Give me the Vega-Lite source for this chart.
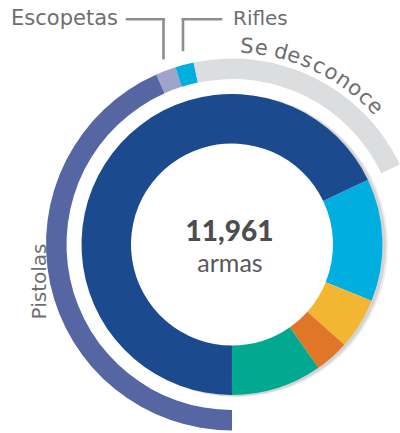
{
  "$schema": "https://vega.github.io/schema/vega-lite/v6.json",
  "width": 400,
  "height": 433,
  "autosize": {"type": "none"},
  "padding": 0,
  "background": "#ffffff",
  "config": {"view": {"stroke": null}},
  "datasets": {
    "anillo": [
      {"segmento": "Grupo 2", "armas": 1575, "orden": 1},
      {"segmento": "Grupo 3", "armas": 658, "orden": 2},
      {"segmento": "Grupo 4", "armas": 442, "orden": 3},
      {"segmento": "Grupo 5", "armas": 1163, "orden": 4},
      {"segmento": "Grupo 1", "armas": 8123, "orden": 5}
    ],
    "tipos": [
      {"tipo": "Pistolas", "armas": 5183, "orden": 1},
      {"tipo": "Escopetas", "armas": 209, "orden": 2},
      {"tipo": "Rifles", "armas": 193, "orden": 3},
      {"tipo": "Se desconoce", "armas": 2538, "orden": 4}
    ],
    "letras": [
      {"ch": "S", "deg": 4.3},
      {"ch": "e", "deg": 8.5},
      {"ch": "d", "deg": 14.3},
      {"ch": "e", "deg": 18.2},
      {"ch": "s", "deg": 22.1},
      {"ch": "c", "deg": 26.0},
      {"ch": "o", "deg": 30.0},
      {"ch": "n", "deg": 34.2},
      {"ch": "o", "deg": 38.3},
      {"ch": "c", "deg": 42.3},
      {"ch": "e", "deg": 46.0}
    ],
    "total": [{"total": 11961, "unidad": "armas"}]
  },
  "encoding": {
    "x": {"datum": 0, "type": "quantitative", "scale": {"domain": [-232, 168], "nice": false, "zero": false}, "axis": null},
    "y": {"datum": 0, "type": "quantitative", "scale": {"domain": [-188.5, 244.5], "nice": false, "zero": false}, "axis": null}
  },
  "resolve": {"scale": {"theta": "independent", "color": "independent"}},
  "layer": [
    {
      "data": {"name": "total"},
      "mark": {"type": "arc", "radius": 151, "innerRadius": 138, "color": "#000000", "opacity": 0.07},
      "encoding": {
        "x": {"datum": 5, "type": "quantitative"},
        "y": {"datum": -1.5, "type": "quantitative"}
      }
    },
    {
      "data": {"name": "total"},
      "mark": {"type": "arc", "radius": 151, "innerRadius": 138, "color": "#000000", "opacity": 0.1},
      "encoding": {
        "x": {"datum": 3, "type": "quantitative"},
        "y": {"datum": -1, "type": "quantitative"}
      }
    },
    {
      "data": {"name": "anillo"},
      "mark": {"type": "arc", "radius": 150.5, "innerRadius": 101},
      "encoding": {
        "theta": {"field": "armas", "type": "quantitative", "stack": true, "scale": {"domain": [0, 11961], "range": [1.125737, 7.408922]}},
        "order": {"field": "orden", "type": "quantitative"},
        "color": {"field": "segmento", "type": "nominal", "legend": null,
          "scale": {"domain": ["Grupo 1", "Grupo 2", "Grupo 3", "Grupo 4", "Grupo 5"],
                    "range": ["#1c4a8f", "#00aedf", "#f2b632", "#e07627", "#00a98f"]}}
      }
    },
    {
      "data": {"name": "tipos"},
      "mark": {"type": "arc", "radius": 186, "innerRadius": 165.5},
      "encoding": {
        "theta": {"field": "armas", "type": "quantitative", "stack": true, "scale": {"domain": [0, 11961], "range": [3.141593, 9.424778]}},
        "order": {"field": "orden", "type": "quantitative"},
        "color": {"field": "tipo", "type": "nominal", "legend": null,
          "scale": {"domain": ["Pistolas", "Escopetas", "Rifles", "Se desconoce"],
                    "range": ["#5566a2", "#9ea4cc", "#00aedf", "#dcdddf"]}}
      }
    },
    {
      "data": {"name": "letras"},
      "mark": {"type": "text", "radius": 192, "align": "center", "baseline": "alphabetic", "font": "DejaVu Sans", "fontSize": 21, "color": "#6d6e71"},
      "encoding": {
        "theta": {"field": "deg", "type": "quantitative", "scale": {"domain": [0, 360], "range": [0, 6.283185]}},
        "angle": {"field": "deg", "type": "quantitative", "scale": null},
        "text": {"field": "ch"}
      }
    },
    {
      "data": {"name": "tipos"},
      "transform": [{"filter": "datum.tipo === 'Pistolas'"}],
      "mark": {"type": "text", "angle": 270, "align": "center", "baseline": "alphabetic", "font": "DejaVu Sans", "fontSize": 20, "color": "#6d6e71"},
      "encoding": {
        "x": {"datum": -186.5, "type": "quantitative"},
        "y": {"datum": -37, "type": "quantitative"},
        "text": {"field": "tipo"}
      }
    },
    {
      "data": {"name": "tipos"},
      "transform": [{"filter": "datum.tipo === 'Escopetas'"}],
      "mark": {"type": "text", "align": "right", "baseline": "alphabetic", "font": "DejaVu Sans", "fontSize": 21, "color": "#6d6e71"},
      "encoding": {
        "x": {"datum": -114, "type": "quantitative"},
        "y": {"datum": 219.5, "type": "quantitative"},
        "text": {"field": "tipo"}
      }
    },
    {
      "data": {"name": "tipos"},
      "transform": [{"filter": "datum.tipo === 'Rifles'"}],
      "mark": {"type": "text", "align": "left", "baseline": "alphabetic", "font": "DejaVu Sans", "fontSize": 20, "color": "#6d6e71"},
      "encoding": {
        "x": {"datum": 1, "type": "quantitative"},
        "y": {"datum": 219.5, "type": "quantitative"},
        "text": {"field": "tipo"}
      }
    },
    {
      "data": {"name": "total"},
      "mark": {"type": "rule", "color": "#8c8d90", "strokeWidth": 2.6, "strokeCap": "square"},
      "encoding": {
        "x": {"datum": -105, "type": "quantitative"},
        "x2": {"datum": -68.5},
        "y": {"datum": 225.2, "type": "quantitative"}
      }
    },
    {
      "data": {"name": "total"},
      "mark": {"type": "rule", "color": "#8c8d90", "strokeWidth": 2.6, "strokeCap": "square"},
      "encoding": {
        "x": {"datum": -68.5, "type": "quantitative"},
        "y": {"datum": 225.2, "type": "quantitative"},
        "y2": {"datum": 186.5}
      }
    },
    {
      "data": {"name": "total"},
      "mark": {"type": "rule", "color": "#8c8d90", "strokeWidth": 2.6, "strokeCap": "square"},
      "encoding": {
        "x": {"datum": -49, "type": "quantitative"},
        "x2": {"datum": -11},
        "y": {"datum": 225.2, "type": "quantitative"}
      }
    },
    {
      "data": {"name": "total"},
      "mark": {"type": "rule", "color": "#8c8d90", "strokeWidth": 2.6, "strokeCap": "square"},
      "encoding": {
        "x": {"datum": -49, "type": "quantitative"},
        "y": {"datum": 225.2, "type": "quantitative"},
        "y2": {"datum": 194.5}
      }
    },
    {
      "data": {"name": "total"},
      "mark": {"type": "text", "align": "center", "baseline": "alphabetic", "font": "Lato", "fontSize": 28, "fontWeight": 900, "color": "#4d4d4f"},
      "encoding": {
        "x": {"datum": -2.5, "type": "quantitative"},
        "y": {"datum": 3.5, "type": "quantitative"},
        "text": {"field": "total", "type": "quantitative", "format": ","}
      }
    },
    {
      "data": {"name": "total"},
      "mark": {"type": "text", "align": "center", "baseline": "alphabetic", "font": "Lato", "fontSize": 25, "color": "#58595b"},
      "encoding": {
        "x": {"datum": -2, "type": "quantitative"},
        "y": {"datum": -27, "type": "quantitative"},
        "text": {"field": "unidad"}
      }
    }
  ]
}
